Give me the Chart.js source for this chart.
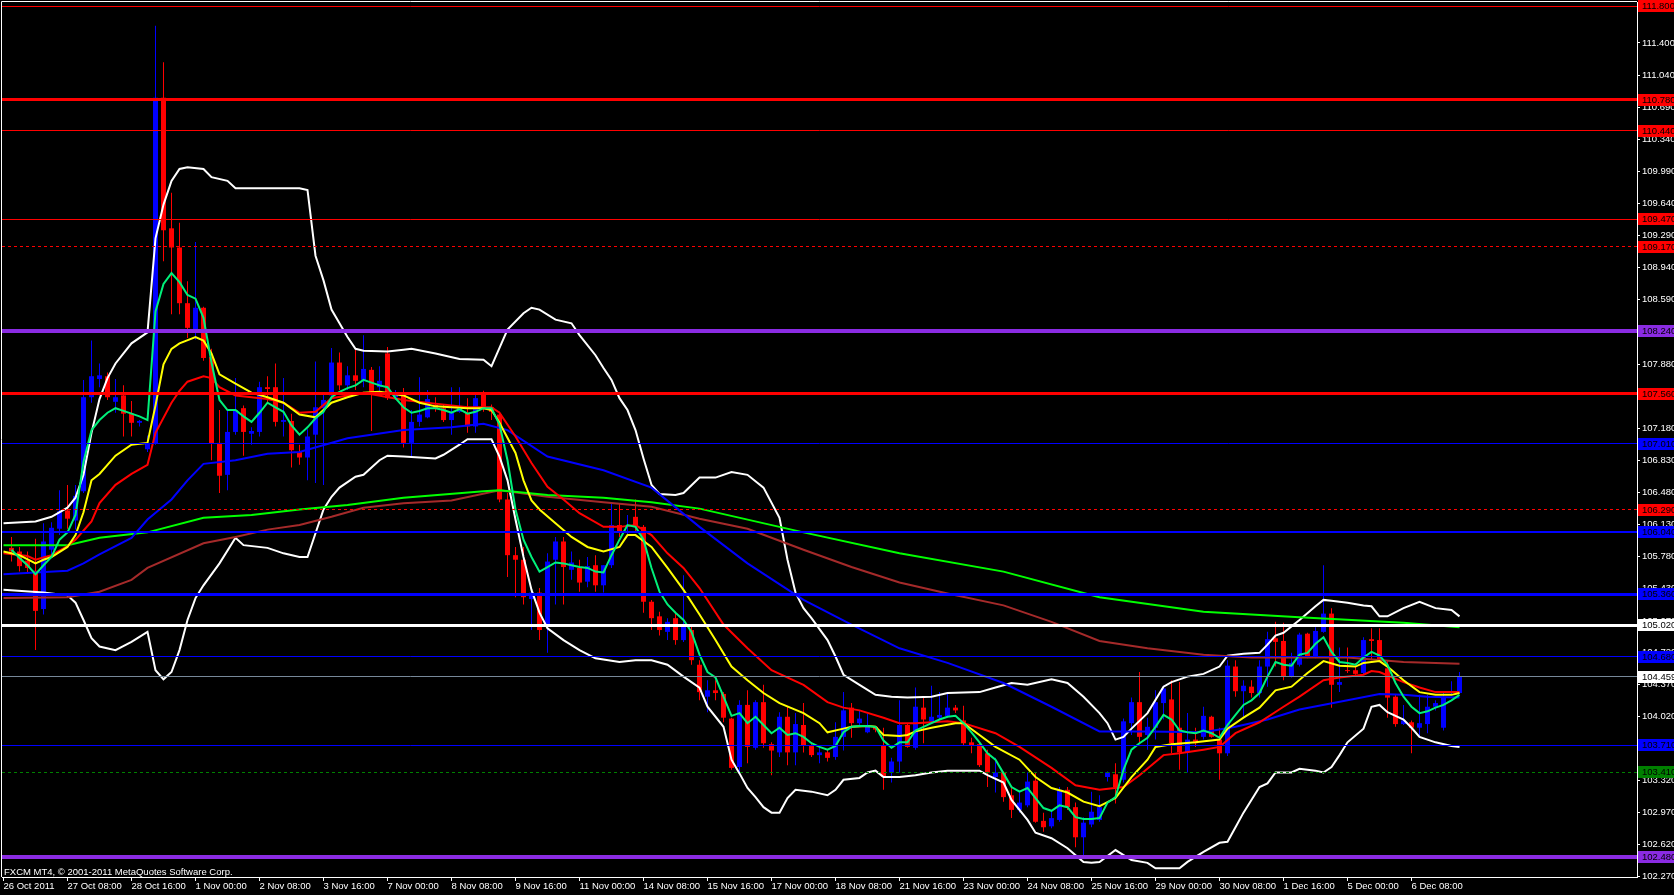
<!DOCTYPE html>
<html>
<head>
<meta charset="utf-8">
<title>FXCM MT4</title>
<script src="https://cdn.jsdelivr.net/npm/chart.js@4.4.0/dist/chart.umd.min.js"></script>
<style>
  html, body { margin: 0; padding: 0; background: #000; }
  canvas { display: block; }
</style>
</head>
<body>
<canvas id="myChart" width="1674" height="895"></canvas>
<script>
// 4 hour candles, bar 0 = first bar on screen
var opens = [
 105.87,105.83,105.73,105.62,105.20,105.85,106.08,106.28,106.17,106.49,
 107.52,107.72,107.75,107.47,107.54,107.34,107.24,106.95,107.02,110.80,
 109.37,109.16,108.55,108.26,108.50,107.96,107.02,106.67,107.14,107.40,
 107.12,107.14,107.63,107.63,107.25,107.26,106.92,106.86,107.11,107.40,
 107.54,107.90,107.65,107.76,107.71,107.82,107.63,108.00,107.52,107.57,
 107.02,107.25,107.30,107.44,107.40,107.27,107.36,107.35,107.20,107.57,
 107.41,107.33,106.40,105.79,105.74,105.31,105.38,105.03,105.74,105.94,
 105.63,105.65,105.50,105.68,105.46,105.68,106.12,106.10,106.21,106.10,
 105.28,105.12,104.95,105.10,104.86,104.97,104.59,104.24,104.31,104.27,
 104.00,103.47,104.15,103.68,104.18,103.72,103.63,104.02,103.63,103.93,
 103.71,103.60,103.63,103.58,103.80,104.12,103.95,103.85,103.91,103.71,
 103.41,103.53,103.93,103.68,104.12,103.97,104.01,104.03,104.12,103.98,
 103.74,103.72,103.62,103.36,103.41,103.16,103.00,103.05,103.32,102.88,
 102.82,102.89,103.22,103.03,102.70,102.84,102.89,103.36,103.39,103.33,
 103.95,104.18,103.82,103.90,104.17,104.21,103.90,103.63,103.77,103.80,
 104.02,103.77,103.62,104.57,104.30,104.35,104.28,104.57,104.88,104.85,
 104.46,104.59,104.93,104.67,104.95,105.15,104.37,104.53,104.53,104.50,
 104.87,104.86,104.55,104.24,103.94,103.96,103.90,103.94,104.13,103.90,
 104.28,104.28];
var highs = [
 105.99,105.88,105.83,105.97,106.14,106.15,106.50,106.56,106.56,107.71,
 108.14,107.89,107.79,107.72,107.65,107.48,107.27,107.10,111.59,111.19,
 109.76,109.43,108.79,109.22,108.51,108.05,107.38,107.38,107.73,107.43,
 107.19,107.69,107.75,107.89,107.73,107.34,107.00,107.17,107.91,107.57,
 108.06,108.01,107.86,108.04,108.20,107.85,107.86,108.07,107.60,107.62,
 107.38,107.74,107.60,107.52,107.44,107.63,107.63,107.51,107.57,107.59,
 107.44,107.36,106.47,105.88,105.88,105.41,105.43,105.81,105.99,105.99,
 105.83,105.74,105.77,105.79,105.68,106.36,106.36,106.23,106.40,106.12,
 105.30,105.17,105.10,105.17,105.57,105.03,104.64,104.42,104.42,104.29,
 104.01,104.20,104.31,104.20,104.37,103.74,104.07,104.13,104.06,104.17,
 103.74,103.69,103.66,103.96,104.29,104.17,104.09,104.05,103.92,103.90,
 103.57,104.20,103.94,104.34,104.23,104.36,104.29,104.27,104.15,104.14,
 103.79,103.74,103.66,103.57,103.42,103.25,103.19,103.41,103.41,102.97,
 103.00,103.25,103.25,103.08,102.92,103.20,103.16,103.42,103.51,104.00,
 104.23,104.51,104.01,104.31,104.36,104.42,104.40,104.06,103.90,104.13,
 104.03,103.90,104.64,104.64,104.42,104.42,104.64,104.95,105.06,105.05,
 104.72,104.94,104.94,105.00,105.68,105.21,104.78,104.78,104.61,104.89,
 104.99,104.99,104.64,104.26,104.15,103.98,104.26,104.26,104.20,104.28,
 104.41,104.51];
var lows = [
 105.72,105.61,105.59,104.75,105.14,105.79,106.01,106.08,106.07,106.47,
 107.46,107.63,107.49,107.35,107.09,107.09,107.20,106.92,107.00,109.01,
 108.43,108.43,108.17,108.15,107.92,106.83,106.47,106.50,107.11,106.88,
 107.00,107.09,107.46,107.20,107.09,106.75,106.78,106.61,106.58,106.56,
 107.49,107.60,107.60,107.60,107.63,107.15,107.57,107.49,107.49,106.97,
 106.86,107.20,107.29,107.36,107.25,107.11,107.35,107.13,107.13,107.36,
 107.27,106.37,105.55,105.33,105.25,104.97,104.86,104.72,105.25,105.25,
 105.52,105.39,105.44,105.39,105.38,105.65,105.99,106.01,106.04,105.16,
 104.97,104.91,104.86,104.81,104.84,104.59,104.20,104.07,104.20,103.96,
 103.44,103.41,103.51,103.66,103.68,103.38,103.58,103.49,103.49,103.63,
 103.58,103.51,103.53,103.55,103.65,103.79,103.91,103.84,103.85,103.22,
 103.30,103.41,103.68,103.66,103.73,103.95,103.99,104.01,104.06,103.71,
 103.62,103.47,103.25,103.19,103.09,102.91,102.97,103.03,102.86,102.76,
 102.80,102.87,103.00,102.59,102.48,102.81,102.87,103.31,103.07,103.30,
 103.82,103.73,103.66,103.77,103.99,103.62,103.44,103.41,103.69,103.77,
 103.79,103.33,103.59,104.24,104.02,104.23,104.23,104.35,104.57,104.42,
 104.45,104.57,104.66,104.66,104.94,104.12,104.29,104.50,104.48,104.48,
 104.64,104.62,104.01,103.91,103.93,103.62,103.80,103.84,104.09,103.87,
 104.27,104.27];
var closes = [
 105.83,105.67,105.65,105.18,105.94,106.09,106.27,106.19,106.44,107.52,
 107.75,107.76,107.52,107.52,107.34,107.24,107.26,107.02,110.80,109.35,
 109.16,108.55,108.28,108.50,107.95,107.01,106.66,107.14,107.38,107.14,
 107.15,107.63,107.61,107.25,107.27,106.94,106.86,107.09,107.41,107.49,
 107.90,107.65,107.76,107.70,107.83,107.58,107.70,107.51,107.57,107.02,
 107.25,107.33,107.50,107.40,107.27,107.35,107.40,107.20,107.51,107.40,
 107.36,106.40,105.79,105.74,105.33,105.38,104.97,105.72,105.94,105.66,
 105.71,105.49,105.67,105.46,105.68,106.12,106.04,106.12,106.10,105.28,
 105.10,104.97,105.06,104.86,105.03,104.64,104.29,104.31,104.28,104.01,
 103.46,104.15,103.69,104.18,103.73,103.65,104.02,103.63,103.94,103.71,
 103.60,103.63,103.57,103.80,104.09,103.95,104.00,103.91,103.88,103.36,
 103.53,103.93,103.69,104.13,103.99,104.02,104.04,104.12,104.09,103.73,
 103.71,103.49,103.41,103.41,103.14,103.00,103.08,103.31,102.87,102.81,
 102.91,103.22,103.03,102.70,102.86,102.98,103.03,103.41,103.25,103.97,
 104.18,103.80,103.91,104.18,104.33,103.73,103.63,103.77,103.73,104.03,
 103.80,103.62,104.58,104.30,104.36,104.28,104.57,104.87,104.84,104.46,
 104.61,104.92,104.67,104.96,105.15,104.37,104.40,104.52,104.49,104.86,
 104.85,104.64,104.23,103.94,103.98,103.90,103.95,104.13,104.17,104.23,
 104.30,104.46];

// fast MA, one value per bar
var fastMA = [
 105.85,105.76,105.68,105.58,105.68,105.77,105.96,106.04,106.23,106.81,
 107.16,107.27,107.35,107.40,107.37,107.34,107.31,107.27,108.46,108.76,
 108.88,108.78,108.64,108.60,108.39,107.90,107.49,107.38,107.38,107.31,
 107.25,107.35,107.46,107.41,107.36,107.21,107.11,107.19,107.29,107.36,
 107.52,107.58,107.62,107.65,107.71,107.68,107.65,107.63,107.51,107.41,
 107.35,107.37,107.40,107.40,107.38,107.35,107.39,107.34,107.36,107.40,
 107.40,107.22,106.83,106.29,105.96,105.77,105.61,105.66,105.71,105.70,
 105.68,105.66,105.65,105.61,105.60,105.79,105.96,106.12,106.10,105.96,
 105.65,105.39,105.25,105.16,105.08,104.95,104.70,104.51,104.45,104.24,
 104.03,104.06,103.95,104.02,103.93,103.84,103.90,103.82,103.84,103.80,
 103.73,103.69,103.66,103.70,103.85,103.91,103.92,103.92,103.91,103.76,
 103.68,103.74,103.74,103.87,103.91,103.95,103.99,104.02,104.03,103.95,
 103.85,103.74,103.62,103.55,103.40,103.25,103.20,103.24,103.13,103.02,
 102.99,103.05,103.03,102.92,102.90,102.90,102.91,103.08,103.14,103.44,
 103.66,103.73,103.79,103.91,104.04,103.99,103.87,103.85,103.84,103.87,
 103.84,103.79,103.93,104.04,104.15,104.20,104.28,104.46,104.62,104.59,
 104.58,104.70,104.72,104.82,104.89,104.73,104.62,104.61,104.59,104.67,
 104.73,104.69,104.59,104.39,104.24,104.13,104.06,104.08,104.12,104.15,
 104.20,104.26];

// slower lines, read as [bar, price] (bar -1 = left edge of the window)
var yellowMA = [[-1,105.83],[1,105.79],[3,105.70],[4,105.74],[5,105.77],[7,105.88],[8,106.01],[9,106.26],[10,106.61],[11,106.68],[13,106.88],[15,107.00],[17,107.02],[18,107.43],[19,107.88],[20,108.05],[21,108.11],[23,108.18],[24,108.14],[25,108.00],[26,107.77],[28,107.67],[30,107.57],[32,107.52],[34,107.46],[36,107.33],[38,107.30],[40,107.46],[42,107.52],[44,107.57],[46,107.58],[49,107.54],[51,107.46],[53,107.42],[55,107.41],[57,107.40],[59,107.40],[60,107.38],[61,107.24],[63,106.91],[64,106.61],[65,106.39],[66,106.29],[68,106.14],[70,105.99],[72,105.88],[74,105.83],[76,105.88],[77,106.01],[78,106.01],[80,105.88],[82,105.65],[84,105.41],[86,105.14],[88,104.86],[90,104.57],[92,104.42],[94,104.28],[96,104.17],[99,104.06],[101,103.95],[102,103.85],[104,103.89],[105,103.91],[107,103.92],[108,103.91],[109,103.82],[111,103.81],[112,103.82],[113,103.86],[115,103.90],[118,103.95],[119,103.95],[121,103.82],[123,103.69],[126,103.55],[128,103.36],[130,103.24],[132,103.19],[134,103.09],[136,103.04],[138,103.13],[140,103.36],[142,103.55],[143,103.69],[145,103.72],[148,103.74],[151,103.77],[152,103.89],[154,104.01],[156,104.12],[158,104.31],[160,104.35],[162,104.50],[164,104.63],[166,104.58],[168,104.57],[169,104.61],[171,104.63],[172,104.57],[174,104.42],[176,104.29],[178,104.26],[180,104.26],[181,104.28]];
var redMA = [[-1,105.81],[2,105.78],[3,105.74],[5,105.79],[7,105.89],[8,105.96],[10,106.16],[11,106.36],[13,106.56],[15,106.68],[17,106.78],[18,107.13],[20,107.46],[21,107.59],[22,107.69],[24,107.75],[25,107.73],[26,107.63],[28,107.54],[32,107.50],[34,107.46],[36,107.35],[38,107.36],[40,107.51],[42,107.54],[44,107.57],[49,107.49],[53,107.45],[57,107.41],[60,107.41],[61,107.35],[63,107.09],[65,106.80],[67,106.54],[69,106.40],[71,106.25],[74,106.10],[76,106.10],[78,106.12],[80,106.01],[82,105.81],[84,105.65],[86,105.43],[89,105.03],[92,104.77],[95,104.53],[99,104.37],[102,104.18],[104,104.12],[106,104.09],[109,104.01],[111,103.95],[113,103.95],[117,103.97],[119,103.95],[123,103.84],[126,103.69],[130,103.46],[133,103.27],[136,103.22],[139,103.25],[141,103.38],[144,103.60],[146,103.62],[149,103.66],[151,103.69],[153,103.84],[156,103.96],[159,104.13],[161,104.24],[164,104.42],[166,104.45],[169,104.48],[170,104.52],[171,104.51],[174,104.40],[176,104.34],[178,104.29],[181,104.29]];
var blueMA = [[-1,105.58],[7,105.62],[9,105.70],[11,105.80],[15,105.98],[17,106.18],[20,106.40],[22,106.61],[24,106.79],[28,106.83],[32,106.90],[36,106.92],[42,107.07],[49,107.16],[55,107.19],[59,107.23],[62,107.16],[67,106.87],[74,106.72],[80,106.53],[86,106.10],[92,105.70],[99,105.30],[105,105.03],[111,104.77],[117,104.61],[124,104.39],[130,104.13],[136,103.86],[142,103.86],[149,103.85],[153,103.91],[157,103.99],[161,104.10],[167,104.20],[171,104.27],[174,104.26],[177,104.24],[181,104.23]];
var greenMA = [[-1,105.90],[7,105.90],[11,105.98],[17,106.04],[24,106.20],[30,106.23],[36,106.29],[42,106.34],[49,106.42],[59,106.49],[61,106.50],[67,106.45],[74,106.42],[80,106.37],[86,106.30],[99,106.04],[111,105.81],[124,105.61],[136,105.33],[149,105.17],[161,105.11],[174,105.05],[181,105.00]];
var brownMA = [[-1,105.32],[7,105.33],[11,105.39],[15,105.52],[17,105.65],[24,105.92],[28,105.99],[32,106.07],[36,106.12],[40,106.21],[44,106.31],[49,106.36],[55,106.39],[61,106.50],[67,106.43],[74,106.37],[80,106.32],[86,106.19],[92,106.08],[99,105.85],[105,105.66],[111,105.49],[117,105.37],[124,105.24],[130,105.06],[136,104.85],[142,104.77],[149,104.70],[155,104.67],[161,104.67],[167,104.67],[174,104.62],[181,104.60]];
var upperBand = [[-1,106.14],[3,106.16],[5,106.21],[7,106.31],[8,106.42],[9,106.67],[10,107.13],[11,107.50],[12,107.73],[13,107.89],[15,108.11],[17,108.23],[18,109.26],[19,109.63],[20,109.89],[21,110.02],[22,110.04],[24,110.02],[25,109.93],[27,109.89],[28,109.81],[36,109.81],[37,109.79],[38,109.07],[39,108.80],[40,108.48],[41,108.33],[42,108.18],[43,108.05],[44,108.03],[47,108.02],[49,108.04],[50,108.05],[53,108.00],[56,107.94],[59,107.93],[60,107.86],[61,108.06],[62,108.26],[64,108.44],[65,108.50],[66,108.48],[68,108.37],[70,108.33],[71,108.20],[73,107.98],[74,107.84],[75,107.71],[76,107.51],[77,107.38],[78,107.16],[79,106.85],[80,106.56],[81,106.46],[83,106.45],[84,106.47],[86,106.64],[88,106.64],[90,106.70],[92,106.67],[94,106.53],[96,106.20],[97,105.74],[98,105.38],[99,105.21],[100,105.10],[102,104.86],[103,104.68],[104,104.48],[106,104.37],[108,104.26],[110,104.24],[112,104.23],[115,104.24],[117,104.28],[121,104.29],[123,104.34],[125,104.39],[127,104.37],[130,104.43],[132,104.39],[134,104.24],[136,104.06],[137,103.95],[138,103.77],[139,103.80],[140,103.89],[142,104.06],[144,104.35],[145,104.40],[147,104.46],[149,104.49],[151,104.57],[152,104.69],[154,104.71],[156,104.72],[157,104.81],[158,104.91],[159,104.94],[161,105.08],[163,105.23],[164,105.30],[165,105.29],[167,105.27],[169,105.24],[170,105.23],[171,105.12],[172,105.12],[174,105.21],[176,105.28],[178,105.21],[180,105.19],[181,105.12]];
var lowerBand = [[-1,105.41],[4,105.38],[7,105.35],[8,105.27],[9,105.08],[10,104.88],[11,104.79],[13,104.75],[15,104.84],[17,104.95],[18,104.53],[19,104.43],[20,104.51],[21,104.75],[22,105.08],[23,105.32],[24,105.46],[26,105.70],[28,105.98],[29,105.90],[32,105.87],[34,105.81],[36,105.77],[37,105.77],[38,106.03],[39,106.29],[40,106.43],[41,106.53],[43,106.65],[44,106.67],[46,106.83],[47,106.88],[49,106.87],[53,106.85],[54,106.89],[56,107.00],[57,107.06],[60,107.06],[61,106.87],[62,106.61],[63,106.18],[64,105.77],[65,105.41],[66,105.16],[67,104.99],[69,104.86],[71,104.75],[73,104.66],[76,104.62],[78,104.64],[80,104.64],[82,104.59],[84,104.46],[86,104.34],[87,104.13],[89,103.91],[90,103.55],[91,103.40],[92,103.24],[93,103.14],[94,103.03],[95,102.97],[96,102.97],[97,103.13],[98,103.22],[100,103.20],[102,103.16],[103,103.22],[104,103.33],[106,103.35],[107,103.41],[108,103.43],[109,103.36],[111,103.36],[113,103.38],[115,103.41],[117,103.43],[121,103.43],[122,103.38],[124,103.30],[125,103.11],[127,102.89],[128,102.75],[130,102.69],[132,102.58],[134,102.43],[135,102.42],[136,102.43],[138,102.56],[140,102.45],[142,102.42],[143,102.36],[146,102.36],[147,102.43],[149,102.54],[151,102.64],[152,102.65],[153,102.81],[154,102.97],[156,103.25],[157,103.29],[158,103.41],[160,103.41],[161,103.45],[163,103.43],[164,103.41],[165,103.47],[166,103.60],[167,103.74],[169,103.89],[170,104.13],[171,104.15],[172,104.07],[174,103.99],[175,103.90],[176,103.80],[178,103.74],[180,103.70],[181,103.69]];

// time axis labels, one every 8 bars starting one bar before bar 0
var timeLabels = ['26 Oct 2011','27 Oct 08:00','28 Oct 16:00','1 Nov 00:00','2 Nov 08:00','3 Nov 16:00','7 Nov 00:00','8 Nov 08:00','9 Nov 16:00','11 Nov 00:00','14 Nov 08:00','15 Nov 16:00','17 Nov 00:00','18 Nov 08:00','21 Nov 16:00','23 Nov 00:00','24 Nov 08:00','25 Nov 16:00','29 Nov 00:00','30 Nov 08:00','1 Dec 16:00','5 Dec 00:00','6 Dec 08:00'];
var priceTicks = [111.40,111.04,110.69,110.34,109.99,109.64,109.29,108.94,108.59,108.24,107.88,107.53,107.18,106.83,106.48,106.13,105.78,105.43,105.07,104.72,104.37,104.02,103.67,103.32,102.97,102.62,102.27];

// horizontal price levels
var levelPrices = [111.80,110.78,110.44,109.47,109.17,108.24,107.56,107.01,106.29,106.04,105.36,105.02,104.68,104.459,103.71,103.41,102.48];
var levelColors = ['#ff0000','#ff0000','#ff0000','#ff0000','#ff0000','#8a2be2','#ff0000','#0000ff','#ff0000','#0000ff','#0000ff','#ffffff','#0000ff','#778899','#0000ff','#008000','#8a2be2'];
var levelBoxColors = ['#ff0000','#ff0000','#ff0000','#ff0000','#ff0000','#8a2be2','#ff0000','#0000ff','#ff0000','#0000ff','#0000ff','#ffffff','#0000ff','#ffffff','#0000ff','#008000','#8a2be2'];
var levelWidths = [1,3,1,1,1,4,3,1,1,2,3,3,1,1,1,1,4];
var levelDashed = [false,false,false,false,true,false,false,false,true,false,false,false,false,false,false,true,false];

var FONT = '"Liberation Sans", Arial, sans-serif';
var upColor = '#0000ff', downColor = '#ff0000';

function candleColor(c) {
  var i = c.dataIndex;
  return closes[i] >= opens[i] ? upColor : downColor;
}
function pairs(arr) {
  return arr.map(function (p) { return { x: p[0], y: p[1] }; });
}
function lineSet(data, color, order) {
  return { type: 'line', data: data, borderColor: color, borderWidth: 2, pointRadius: 0,
    pointHoverRadius: 0, tension: 0, fill: false, order: order };
}

var mt4Look = {
  id: 'mt4Look',
  beforeDraw: function (chart) {
    var c = chart.ctx;
    c.save();
    c.fillStyle = '#000';
    c.fillRect(0, 0, chart.width, chart.height);
    c.restore();
  },
  afterDatasetsDraw: function (chart) {
    var c = chart.ctx, a = chart.chartArea, ys = chart.scales.y;
    c.save();
    c.beginPath();
    c.rect(a.left, a.top, a.right - a.left, a.bottom - a.top);
    c.clip();
    levelPrices.forEach(function (p, i) {
      var w = levelWidths[i];
      var py = ys.getPixelForValue(p);
      py = (w % 2 === 1) ? Math.round(py - 0.5) + 0.5 : Math.round(py);
      c.strokeStyle = levelColors[i];
      c.lineWidth = w;
      c.setLineDash(levelDashed[i] ? [3, 3] : []);
      c.beginPath();
      c.moveTo(a.left, py);
      c.lineTo(a.right, py);
      c.stroke();
    });
    c.setLineDash([]);
    c.fillStyle = '#ffffff';
    c.font = '9.5px ' + FONT;
    c.textBaseline = 'alphabetic';
    c.fillText('FXCM MT4, \u00a9 2001-2011 MetaQuotes Software Corp.', a.left + 2, a.bottom - 2);
    c.restore();
  },
  afterDraw: function (chart) {
    var c = chart.ctx, a = chart.chartArea, ys = chart.scales.y;
    c.save();
    // frame
    c.strokeStyle = '#ffffff';
    c.lineWidth = 1;
    c.beginPath();
    c.moveTo(a.left - 0.5, a.bottom);
    c.lineTo(a.left - 0.5, a.top - 0.5);
    c.lineTo(a.right, a.top - 0.5);
    c.stroke();
    // price boxes on the right scale
    c.font = '9.5px ' + FONT;
    c.textBaseline = 'middle';
    levelPrices.forEach(function (p, i) {
      var py = Math.round(ys.getPixelForValue(p));
      c.fillStyle = levelBoxColors[i];
      c.fillRect(a.right + 1, py - 6, 40, 12);
      c.fillStyle = '#000000';
      c.fillText(p.toFixed(3), a.right + 5, py);
    });
    c.restore();
  }
};

var idx = opens.map(function (o, i) { return i; });

var ctx = document.getElementById('myChart').getContext('2d');
var chart = new Chart(ctx, {
  type: 'bar',
  data: {
    datasets: [
      lineSet(fastMA.map(function (v, i) { return { x: i, y: v }; }), '#00f07a', 0),
      lineSet(pairs(yellowMA), '#ffff00', 1),
      lineSet(pairs(redMA), '#ff0000', 2),
      lineSet(pairs(blueMA), '#0000ff', 3),
      lineSet(pairs(greenMA), '#00ff00', 4),
      lineSet(pairs(brownMA), '#a52a2a', 5),
      lineSet(pairs(upperBand), '#ffffff', 6),
      lineSet(pairs(lowerBand), '#ffffff', 6),
      {
        // candle bodies
        type: 'bar', order: 7, grouped: false, barThickness: 5, minBarLength: 1,
        inflateAmount: 0, borderWidth: 0, backgroundColor: candleColor,
        data: idx.map(function (i) { return { x: i, y: [Math.min(opens[i], closes[i]), Math.max(opens[i], closes[i])] }; })
      },
      {
        // wicks
        type: 'bar', order: 8, grouped: false, barThickness: 1,
        inflateAmount: 0, borderWidth: 0, backgroundColor: candleColor,
        data: idx.map(function (i) { return { x: i, y: [lows[i], highs[i]] }; })
      }
    ]
  },
  options: {
    responsive: false,
    animation: false,
    devicePixelRatio: 1,
    events: [],
    layout: { padding: { left: 2, top: 2, right: 0, bottom: 0 } },
    plugins: { legend: { display: false }, tooltip: { enabled: false } },
    scales: {
      x: {
        type: 'linear', position: 'bottom', min: -1.1875, max: 203.1875,
        bounds: 'data', offset: false,
        afterBuildTicks: function (s) {
          s.ticks = timeLabels.map(function (t, k) { return { value: 8 * k - 1 }; });
        },
        afterFit: function (s) { s.height = 18; s.paddingLeft = 0; s.paddingRight = 0; },
        grid: { display: true, offset: false, drawOnChartArea: false, drawTicks: true, tickLength: 4, color: '#ffffff' },
        border: { display: true, color: '#ffffff' },
        ticks: {
          color: '#ffffff', font: { family: FONT, size: 9.5 }, padding: 0, align: 'start',
          maxRotation: 0, minRotation: 0, autoSkip: false,
          callback: function (v, i) { return timeLabels[i]; }
        }
      },
      y: {
        type: 'linear', position: 'right', min: 102.265, max: 111.849,
        bounds: 'data', beginAtZero: false,
        afterBuildTicks: function (s) {
          s.ticks = priceTicks.map(function (v) { return { value: v }; });
        },
        afterFit: function (s) { s.width = 37; s.paddingTop = 0; s.paddingBottom = 0; },
        grid: { display: true, drawOnChartArea: false, drawTicks: true, tickLength: 3, color: '#ffffff' },
        border: { display: true, color: '#ffffff' },
        ticks: {
          color: '#ffffff', font: { family: FONT, size: 9.5 }, padding: 2, autoSkip: false,
          callback: function (v) { return v.toFixed(3); }
        }
      }
    }
  },
  plugins: [mt4Look]
});
</script>
</body>
</html>
